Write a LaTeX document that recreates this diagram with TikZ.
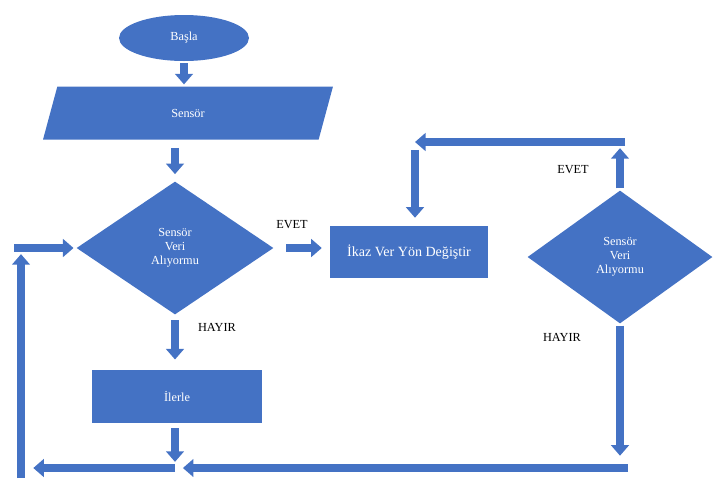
\documentclass[tikz,border=0pt]{standalone}
\usepackage{fontspec}
\setmainfont{Liberation Serif}
\usetikzlibrary{shapes.geometric,arrows.meta}
\definecolor{flowblue}{HTML}{4472C4}

\begin{document}
\begin{tikzpicture}[x=0.02cm, y=-0.02cm,
    box/.style={fill=flowblue, text=white, font=\scriptsize, inner sep=0pt, align=center},
    flow/.style={draw=flowblue, line width=4.5pt, -{Triangle[width=10pt,length=6pt]}},
    lbl/.style={font=\scriptsize}]
  \useasboundingbox (0,0) rectangle (713,478);

  % Shapes
  \node[box, ellipse, minimum width=2.6cm, minimum height=0.92cm] (start) at (184,38) {Başla};
  \node[box, trapezium, trapezium left angle=30, trapezium right angle=150,
        trapezium stretches body, minimum width=5.8cm, minimum height=1.06cm] (sensor) at (188,113) {Sensör};
  \node[box, diamond, minimum width=3.94cm, minimum height=2.66cm] (check1) at (175,248) {Sensör\\Veri\\Alıyormu};
  \node[box, rectangle, font=\footnotesize, minimum width=3.16cm, minimum height=1.04cm] (warn) at (409,252) {İkaz Ver Yön Değiştir};
  \node[box, rectangle, minimum width=3.42cm, minimum height=1.06cm] (forward) at (177,396) {İlerle};
  \node[box, diamond, minimum width=3.7cm, minimum height=2.66cm] (check2) at (620,257) {Sensör\\Veri\\Alıyormu};

  % Labels
  \node[lbl] (yes1) at (292,225) {EVET};
  \node[lbl] (yes2) at (573,170) {EVET};
  \node[lbl] (no1) at (217,327) {HAYIR};
  \node[lbl] (no2) at (562,337) {HAYIR};

  % Corners of the loops
  \coordinate (topR) at (625,142);
  \coordinate (topL) at (415,142);
  \coordinate (botR) at (628,468);
  \coordinate (botM) at (175,468);
  \coordinate (botL) at (21,478);
  \coordinate (inL) at (14,248);

  % Main flow
  \draw[flow, shorten <=1pt, shorten >=1pt] (start.south) -- (start.south |- sensor.north);
  \draw[flow, shorten <=4.5pt, shorten >=4pt] (check1.north |- sensor.south) -- (check1.north);
  \draw[flow, shorten <=7pt, shorten >=4.5pt] (check1.east) -- (check1.east -| warn.west);
  \draw[flow, shorten <=3pt, shorten >=5.5pt] (check1.south) -- (check1.south |- forward.north);
  \draw[flow, shorten <=3pt, shorten >=3.5pt] (check1.south |- forward.south) -- (botM);

  % Right loop
  \draw[flow, shorten <=1pt, shorten >=3.5pt] (check2.north) -- (check2.north |- topR);
  \draw[flow] (topR) -- (topL);
  \draw[flow, shorten <=4.5pt, shorten >=4.5pt] (topL) -- (topL |- warn.north);
  \draw[flow, shorten <=1pt, shorten >=7pt] (check2.south) -- (check2.south |- botR);

  % Back to the start
  \draw[flow, shorten >=4.5pt] (botR) -- (botM);
  \draw[flow, shorten >=7pt] (botM) -- (botL |- botM);
  \draw[flow, shorten >=3.5pt] (botL) -- (botL |- inL);
  \draw[flow, shorten >=1.5pt] (inL) -- (inL -| check1.west);
\end{tikzpicture}
\end{document}
